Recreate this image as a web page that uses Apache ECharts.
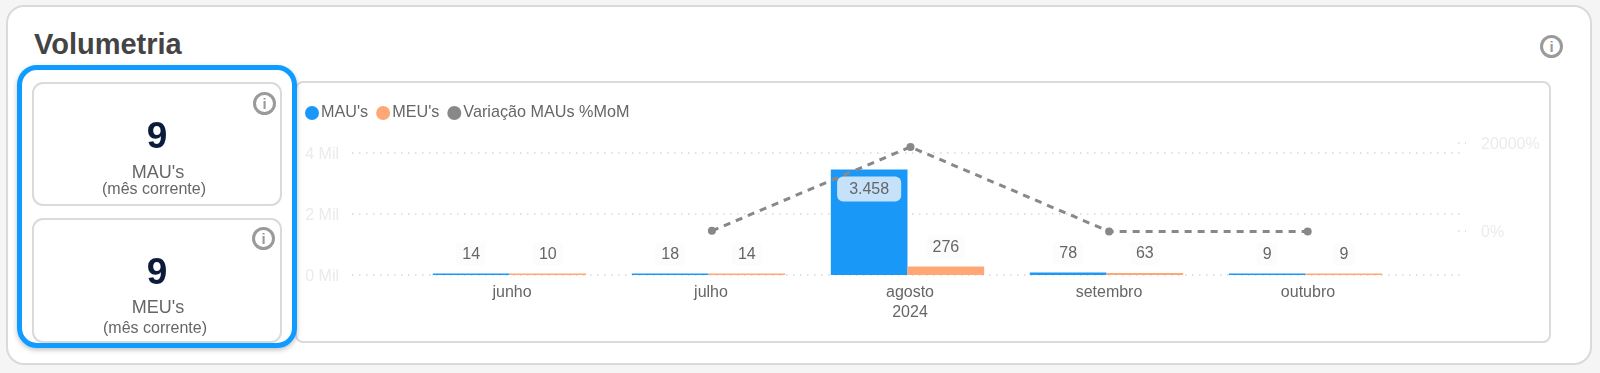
<!DOCTYPE html>
<html><head><meta charset="utf-8">
<script src="https://cdn.jsdelivr.net/npm/echarts@6/dist/echarts.min.js"></script>
<style>
html,body{margin:0;padding:0;width:1600px;height:373px;background:#f5f5f5;overflow:hidden;font-family:"Liberation Sans",Arial,sans-serif}
.abs{position:absolute;box-sizing:border-box}
#outer{left:6px;top:5px;width:1586px;height:360px;background:#fff;border:2px solid #dadada;border-radius:18px}
#title{left:34px;top:27px;font-size:29px;font-weight:bold;color:#444;line-height:34px}
#panel{left:295px;top:81px;width:1256px;height:262px;border:2px solid #dadada;border-radius:8px;background:#fff}
#chart{left:0;top:0;width:1600px;height:373px}
#frame{left:17px;top:65px;width:280px;height:283px;border:5px solid #0f9bff;border-radius:20px;box-shadow:0 2px 5px rgba(0,0,0,.25)}
.card{left:32px;width:250px;border:2px solid #dadada;border-radius:11px;background:#fff}
.t{left:32px;width:250px;text-align:center;color:#666}
.num{font-size:37px;font-weight:bold;color:#0d1b3a;line-height:40px}
.lab{font-size:18px;line-height:20px}
.sub{font-size:16px;line-height:18px}
.info{width:23px;height:23px;border:3px solid #9a9a9a;border-radius:50%;color:#9a9a9a;font-size:15px;font-weight:bold;text-align:center;line-height:17px}
</style></head><body>
<div class="abs" id="outer"></div>
<div class="abs" id="title">Volumetria</div>
<div class="abs info" style="left:1540px;top:35px">i</div>
<div class="abs" id="panel"></div>
<div class="abs" id="chart"></div>
<div class="abs card" style="top:82px;height:124px"></div>
<div class="abs card" style="top:218px;height:125px"></div>
<div class="abs" id="frame"></div>
<div class="abs info" style="left:253px;top:92px">i</div>
<div class="abs info" style="left:252px;top:227px">i</div>
<div class="abs t num" style="top:116px;left:32px">9</div>
<div class="abs t lab" style="top:162px;left:33px">MAU's</div>
<div class="abs t sub" style="top:180px;left:29px">(mês corrente)</div>
<div class="abs t num" style="top:252px;left:32px">9</div>
<div class="abs t lab" style="top:297px;left:33px">MEU's</div>
<div class="abs t sub" style="top:319px;left:30px">(mês corrente)</div>
<script>
const tickLabels = ['junho','julho','agosto\n2024','setembro','outubro'];
const mau = [14,18,3458,78,9];
const meu = [10,14,276,63,9];
const variacao = [null,29,19111,-98,-88];

const BLUE='#1a98f8', ORANGE='#ffa876', GREY='#888888', PALE='#ebebeb', TXT='#666666';
const FONT='"Liberation Sans",Arial,sans-serif';
const fmt = v => String(v).replace(/\B(?=(\d{3})+$)/g,'.');
const smallLabel = {show:true,position:'top',distance:8,color:TXT,fontSize:16,fontFamily:FONT,
  backgroundColor:'#fcfcfc',borderRadius:4,padding:[4,6,3,6],formatter:p=>fmt(p.value)};
const chart = echarts.init(document.getElementById('chart'),null,{renderer:'canvas'});
const hiddenX = gridIndex => ({type:'category',gridIndex,data:tickLabels,show:false});
chart.setOption({
  animation:false,
  legend:{left:300,top:100,icon:'circle',itemWidth:14,itemHeight:14,itemGap:8,
    textStyle:{color:TXT,fontSize:16.2,fontFamily:FONT,padding:[0,0,0,-3]},
    data:["MAU's","MEU's",'Variação MAUs %MoM']},
  grid:[
    {left:352,right:138,top:153,height:122},
    {left:410,right:195,top:153,height:122},
    {left:414,right:193,top:143,height:88}
  ],
  xAxis:[
    {type:'category',gridIndex:0,data:[''],show:false},
    {type:'category',gridIndex:1,data:tickLabels,axisLine:{show:false},axisTick:{show:false},
      axisLabel:{color:TXT,fontSize:16,fontFamily:FONT,lineHeight:20,margin:8,interval:0,padding:[0,0,0,5]}},
    hiddenX(2)
  ],
  yAxis:[
    {type:'value',gridIndex:0,min:0,max:4000,interval:2000,axisLine:{show:false},axisTick:{show:false},
      axisLabel:{color:PALE,fontSize:16,fontFamily:FONT,margin:13,verticalAlign:'top',lineHeight:4,formatter:v=>(v/1000)+' Mil'},
      splitLine:{lineStyle:{color:'#d8d8d8',width:1.5,type:[1.5,5.5]}}},
    {type:'value',gridIndex:1,min:0,max:4000,show:false},
    {type:'value',gridIndex:2,position:'right',offset:51,min:0,max:20000,interval:20000,
      axisLine:{show:false},
      axisTick:{show:true,length:8,lineStyle:{color:'#d8d8d8',width:1.5,type:[1.5,5.5]}},
      splitLine:{show:false},
      axisLabel:{color:PALE,fontSize:16,fontFamily:FONT,margin:23,verticalAlign:'top',lineHeight:4,formatter:v=>v+'%'}}
  ],
  series:[
    {name:"MAU's",type:'bar',xAxisIndex:1,yAxisIndex:1,barWidth:76.7,barGap:0,barMinHeight:1.5,
      itemStyle:{color:BLUE},label:smallLabel,
      data:mau.map(v=>v>1000?{value:v,label:{position:'insideTop',distance:7,backgroundColor:'#c6e2fb',
        borderRadius:6,padding:[5,12,4,12]}}:v)},
    {name:"MEU's",type:'bar',xAxisIndex:1,yAxisIndex:1,barWidth:76.7,barGap:0,barMinHeight:1.5,
      itemStyle:{color:ORANGE},label:smallLabel,data:meu},
    {name:'Variação MAUs %MoM',type:'line',xAxisIndex:2,yAxisIndex:2,z:4,clip:false,symbol:'circle',symbolSize:8,
      connectNulls:false,itemStyle:{color:GREY},lineStyle:{color:GREY,width:3,type:[7,6]},data:variacao}
  ]
});
</script>
</body></html>
